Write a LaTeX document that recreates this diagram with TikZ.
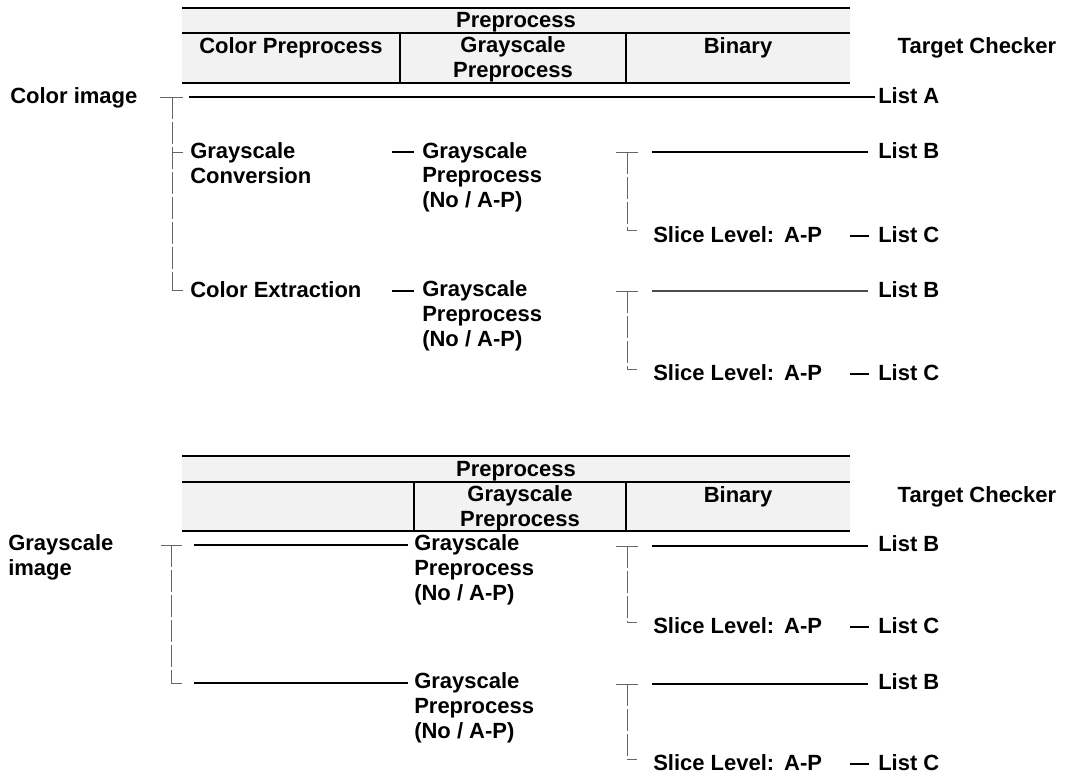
\documentclass[tikz,border=0pt]{standalone}
\usepackage{fontspec}
\setmainfont{Liberation Sans}
\begin{document}
\begin{tikzpicture}[x=0.75pt,y=-0.75pt,
  txt/.style={inner sep=0pt,anchor=base west,align=left,
    font=\fontsize{16.5pt}{18.4pt}\selectfont\bfseries},
  head/.style={txt,anchor=base,align=center},
  tablefill/.style={fill=black!5},
  rule/.style={line width=1.1pt},
  divider/.style={line width=1.6pt},
  link/.style={line width=1.5pt},
  thinlink/.style={line width=0.9pt,black!70},
  tree/.style={line width=0.7pt,black!60,dash pattern=on 16.5pt off 2.2pt},
  treestub/.style={line width=0.7pt,black!60}]
\useasboundingbox (0,0) rectangle (1065,775);
% multi-line nodes are placed by the baseline of their last line

% ---------- first table: colour input ----------
\fill[tablefill] (182,8) rectangle (850,83);
\draw[rule] (182,8) -- (850,8);
\draw[rule] (182,33) -- (850,33);
\draw[rule] (182,83) -- (850,83);
\draw[divider] (400,33) -- (400,83);
\draw[divider] (626,33) -- (626,83);
\node[head] (h1pre) at (516,27) {Preprocess};
\node[head] (h1col) at (291,53) {Color Preprocess};
\node[head] (h1gray) at (513,77.5) {Grayscale\\Preprocess};
\node[head] (h1bin) at (738,53) {Binary};
\node[head] (h1tc) at (977,53) {Target Checker};

% labels
\node[txt] (cimg) at (10,103) {Color image};
\node[txt] (gconv) at (190,183) {Grayscale\\Conversion};
\node[txt] (cext) at (190,297) {Color Extraction};
\node[txt] (gp1) at (422,207.5) {Grayscale\\Preprocess\\(No / A-P)};
\node[txt] (gp2) at (422,346) {Grayscale\\Preprocess\\(No / A-P)};
\node[txt] (sl1) at (653,242) {Slice Level:\hspace{0.45em}A-P};
\node[txt] (sl2) at (653,380) {Slice Level:\hspace{0.45em}A-P};
\node[txt] (la) at (878,103) {List A};
\node[txt] (lb1) at (878,158.5) {List B};
\node[txt] (lc1) at (878,242) {List C};
\node[txt] (lb2) at (878,297) {List B};
\node[txt] (lc2) at (878,380) {List C};

% left tree
\coordinate (t1) at (172,97);
\coordinate (t1m) at (172,152);
\coordinate (t1e) at (172,290);
\draw[treestub] (160,97) -- (183,97);
\draw[tree] (t1) -- (t1e);
\draw[treestub] (t1m) -- ++(11,0);
\draw[treestub] (t1e) -- ++(11,0);
\draw[link,shorten >=2.2pt] (189,97) -- (la.west |- 0,97);

% dashes into grayscale preprocess
\draw[link,shorten >=6pt] (392,152) -- (gp1.west |- 0,152);
\draw[link,shorten >=6pt] (392,291) -- (gp2.west |- 0,291);

% right trees
\coordinate (r1) at (627,152);
\coordinate (r1e) at (627,230);
\draw[treestub] (616,152) -- (638,152);
\draw[tree] (r1) -- (r1e);
\draw[treestub] (r1e) -- ++(10,0);
\draw[link,shorten >=7.5pt] (652,152) -- (lb1.west |- 0,152);
\draw[link,shorten >=6.8pt] (850,236) -- (lc1.west |- 0,236);

\coordinate (r2) at (627,291);
\coordinate (r2e) at (627,369);
\draw[treestub] (616,291) -- (638,291);
\draw[tree] (r2) -- (r2e);
\draw[treestub] (r2e) -- ++(10,0);
\draw[thinlink,shorten >=7.5pt] (652,291) -- (lb2.west |- 0,291);
\draw[link,shorten >=6.8pt] (850,374) -- (lc2.west |- 0,374);

% ---------- second table: grayscale input ----------
\fill[tablefill] (182,456) rectangle (850,531);
\draw[rule] (182,456) -- (850,456);
\draw[rule] (182,482) -- (850,482);
\draw[rule] (182,531) -- (850,531);
\draw[divider] (414,482) -- (414,531);
\draw[divider] (626,482) -- (626,531);
\node[head] (h2pre) at (516,476) {Preprocess};
\node[head] (h2gray) at (520,526.5) {Grayscale\\Preprocess};
\node[head] (h2bin) at (738,502) {Binary};
\node[head] (h2tc) at (977,502) {Target Checker};

\node[txt] (gimg) at (8,575.5) {Grayscale\\image};
\node[txt] (gp3) at (414,600) {Grayscale\\Preprocess\\(No / A-P)};
\node[txt] (gp4) at (414,738) {Grayscale\\Preprocess\\(No / A-P)};
\node[txt] (sl3) at (653,633) {Slice Level:\hspace{0.45em}A-P};
\node[txt] (sl4) at (653,770) {Slice Level:\hspace{0.45em}A-P};
\node[txt] (lb3) at (878,551.5) {List B};
\node[txt] (lc3) at (878,633) {List C};
\node[txt] (lb4) at (878,689.5) {List B};
\node[txt] (lc4) at (878,770) {List C};

% left tree
\coordinate (t2) at (171,545);
\coordinate (t2e) at (171,683);
\draw[treestub] (161,545) -- (182,545);
\draw[tree] (t2) -- (t2e);
\draw[treestub] (t2e) -- ++(11,0);
\draw[link,shorten >=4.5pt] (194,545) -- (gp3.west |- 0,545);
\draw[link,shorten >=4.5pt] (194,683) -- (gp4.west |- 0,683);

% right trees
\coordinate (r3) at (627,546);
\coordinate (r3e) at (627,622);
\draw[treestub] (616,546) -- (638,546);
\draw[tree] (r3) -- (r3e);
\draw[treestub] (r3e) -- ++(10,0);
\draw[link,shorten >=7.5pt] (652,546) -- (lb3.west |- 0,546);
\draw[link,shorten >=6.8pt] (850,627) -- (lc3.west |- 0,627);

\coordinate (r4) at (627,684);
\coordinate (r4e) at (627,759);
\draw[treestub] (616,684) -- (638,684);
\draw[tree] (r4) -- (r4e);
\draw[treestub] (r4e) -- ++(10,0);
\draw[link,shorten >=7.5pt] (652,684) -- (lb4.west |- 0,684);
\draw[link,shorten >=6.8pt] (850,764) -- (lc4.west |- 0,764);
\end{tikzpicture}
\end{document}
